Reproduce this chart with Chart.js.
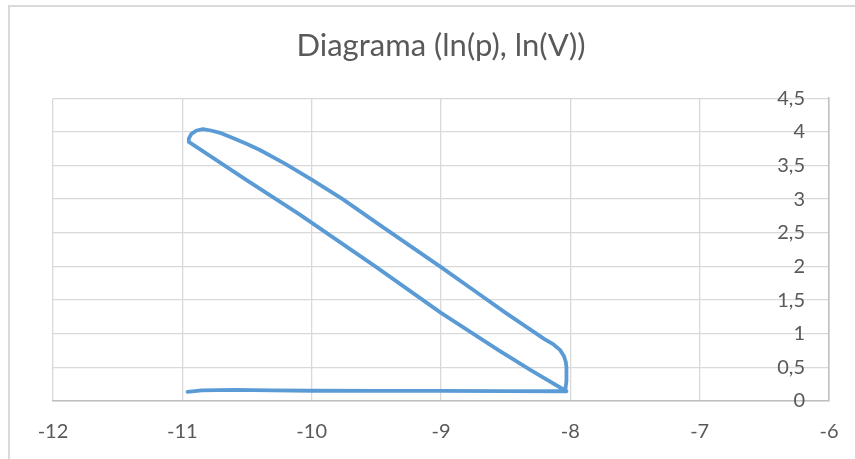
<!DOCTYPE html>
<html>
<head>
<meta charset="utf-8">
<script src="https://cdn.jsdelivr.net/npm/chart.js@4"></script>
<style>
  html, body { margin: 0; padding: 0; background: #ffffff; }
  #wrap { position: relative; width: 855px; height: 459px; overflow: hidden; }
  #frame { position: absolute; left: 8px; top: 5px; width: 900px; height: 500px;
           border-left: 2px solid #D9D9D9; border-top: 2px solid #D9D9D9; }
  canvas { position: absolute; left: 0; top: 0; }
</style>
</head>
<body>
<div id="wrap">
  <div id="frame"></div>
  <canvas id="c" width="855" height="459"></canvas>
</div>
<script>
// ---- data ----
const chartTitle = 'Diagrama (ln(p), ln(V))';
const lnV = [
  -10.96, -10.85, -10.6, -10.3, -10.0, -9.5, -9.0, -8.5, -8.04,
  -8.03, -8.03, -8.035, -8.05, -8.08, -8.13, -8.2,
  -8.3, -8.5, -8.75, -9.0, -9.25, -9.5, -9.76, -10.0, -10.2, -10.4,
  -10.5, -10.6, -10.7, -10.78, -10.84, -10.89, -10.93, -10.95, -10.95,
  -10.5, -10.1, -9.5, -9.0, -8.55, -8.3, -8.03
];
const lnP = [
  0.135, 0.158, 0.165, 0.158, 0.152, 0.15, 0.15, 0.148, 0.145,
  0.3, 0.5, 0.58, 0.67, 0.76, 0.84, 0.92,
  1.05, 1.31, 1.65, 1.99, 2.32, 2.65, 3.0, 3.29, 3.52, 3.73,
  3.82, 3.9, 3.98, 4.02, 4.04, 4.02, 3.97, 3.9, 3.85,
  3.28, 2.78, 1.99, 1.31, 0.75, 0.45, 0.145
];
const xTicks = [-12, -11, -10, -9, -8, -7, -6];
const yTicks = [0, 0.5, 1, 1.5, 2, 2.5, 3, 3.5, 4, 4.5];

const points = lnV.map((x, i) => ({ x: x, y: lnP[i] }));
const fmt = v => String(v).replace('.', ',');

new Chart(document.getElementById('c'), {
  type: 'scatter',
  data: {
    datasets: [{
      data: points,
      showLine: true,
      borderColor: '#5B9BD5',
      backgroundColor: '#5B9BD5',
      borderWidth: 3.8,
      pointRadius: 0,
      tension: 0,
      borderJoinStyle: 'round',
      borderCapStyle: 'round'
    }]
  },
  options: {
    responsive: false,
    animation: false,
    layout: { padding: { top: 5, left: 53, right: 26, bottom: 0 } },
    plugins: {
      legend: { display: false },
      tooltip: { enabled: false },
      title: {
        display: true,
        text: chartTitle,
        color: '#595959',
        font: { family: 'Lato', size: 31, weight: 'normal' },
        padding: { top: 22, bottom: 34 }
      }
    },
    scales: {
      x: {
        type: 'linear',
        min: xTicks[0],
        max: xTicks[xTicks.length - 1],
        afterBuildTicks: s => { s.ticks = xTicks.map(v => ({ value: v })); },
        afterFit: s => { s.height = 58; s.paddingLeft = 0; s.paddingRight = 0; },
        ticks: { color: '#595959', font: { family: 'Lato', size: 20 }, padding: 19, callback: fmt },
        grid: { color: '#D9D9D9', lineWidth: 1.3, drawTicks: false },
        border: { color: '#BFBFBF', width: 1.5 }
      },
      y: {
        type: 'linear',
        position: 'right',
        min: yTicks[0],
        max: yTicks[yTicks.length - 1],
        afterBuildTicks: s => { s.ticks = yTicks.map(v => ({ value: v })); },
        afterFit: s => { s.width = 0; s.paddingTop = 0; s.paddingBottom = 0; },
        ticks: { color: '#595959', font: { family: 'Lato', size: 20 }, mirror: true, padding: -24, callback: fmt },
        grid: { color: '#D9D9D9', lineWidth: 1.3, drawTicks: false },
        border: { color: '#BFBFBF', width: 1.5 }
      }
    }
  }
});
</script>
</body>
</html>
